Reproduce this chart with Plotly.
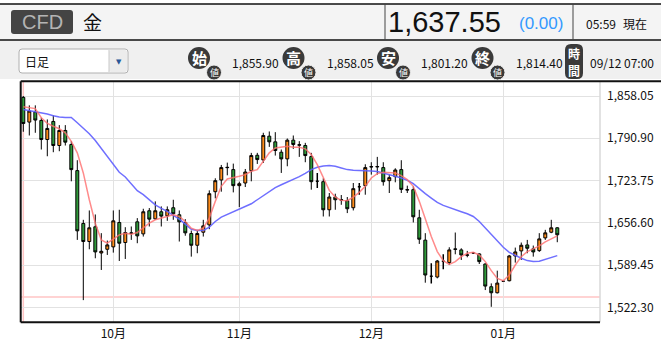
import pandas as pd
import plotly.graph_objects as go

W, H = 661, 343

# ---------------- data ----------------
dates = [d.strftime("%Y-%m-%d") for d in pd.bdate_range("2011-09-12", periods=90)]

opens = [1855.90, 1816.6, 1832.5, 1819.2, 1788.9, 1817.6, 1779.4, 1803.3, 1781.0, 1739.5,
         1655.5, 1626.8, 1650.2, 1608.6, 1614.5, 1618.3, 1657.1, 1625.2, 1639.5, 1658.1,
         1639.0, 1675.7, 1662.9, 1674.1, 1667.7, 1680.5, 1669.3, 1657.1, 1639.5, 1620.9,
         1641.6, 1653.3, 1706.0, 1724.6, 1744.8, 1741.1, 1715.6, 1719.8, 1739.5, 1763.9,
         1756.5, 1794.2, 1785.2, 1768.7, 1758.1, 1787.9, 1779.9, 1779.4, 1761.8, 1722.5,
         1721.9, 1677.3, 1697.5, 1692.7, 1691.6, 1680.5, 1714.0, 1715.6, 1745.9, 1745.4,
         1744.3, 1723.5, 1729.9, 1741.1, 1708.6, 1709.2, 1664.5, 1629.0, 1571.5, 1570.4,
         1595.4, 1593.3, 1615.1, 1613.5, 1605.0, 1608.7, 1607.1, 1591.1, 1555.0, 1545.4,
         1563.5, 1564.5, 1603.9, 1611.9, 1621.4, 1615.1, 1612.4, 1632.6, 1641.6, 1648.6]

highs = [1858.05, 1843.2, 1843.2, 1823.5, 1820.8, 1827.2, 1811.8, 1811.8, 1786.3, 1756.0,
         1661.3, 1676.2, 1669.8, 1640.1, 1628.4, 1676.2, 1677.3, 1649.6, 1650.7, 1664.0,
         1678.9, 1680.0, 1690.6, 1682.6, 1682.6, 1693.2, 1676.2, 1662.4, 1644.3, 1645.4,
         1661.3, 1708.1, 1727.3, 1748.5, 1752.2, 1750.6, 1721.9, 1742.1, 1767.7, 1767.7,
         1799.6, 1801.7, 1800.6, 1773.0, 1790.5, 1795.3, 1786.3, 1783.6, 1767.7, 1735.8,
         1727.3, 1703.9, 1702.8, 1700.7, 1697.5, 1719.8, 1719.8, 1749.6, 1752.8, 1761.3,
         1752.8, 1733.1, 1743.2, 1756.0, 1715.6, 1714.5, 1677.3, 1640.1, 1592.2, 1597.5,
         1606.5, 1617.7, 1641.1, 1616.1, 1611.9, 1610.3, 1608.2, 1592.2, 1560.3, 1580.5,
         1564.5, 1605.5, 1617.2, 1625.2, 1629.4, 1620.4, 1640.1, 1645.4, 1661.3, 1649.6]

lows = [1801.20, 1795.3, 1799.6, 1773.0, 1762.3, 1768.7, 1770.3, 1779.4, 1722.5, 1629.4,
        1533.7, 1614.5, 1600.2, 1581.6, 1605.5, 1609.2, 1595.9, 1599.1, 1629.4, 1624.1,
        1634.7, 1650.7, 1661.3, 1650.7, 1659.7, 1661.3, 1626.8, 1636.0, 1602.8, 1608.2,
        1634.7, 1646.4, 1695.4, 1706.0, 1732.0, 1704.9, 1681.5, 1713.4, 1722.5, 1750.1,
        1751.7, 1777.2, 1763.4, 1735.8, 1746.4, 1774.0, 1761.3, 1752.8, 1709.2, 1711.8,
        1666.6, 1666.6, 1677.3, 1685.2, 1672.0, 1676.2, 1701.2, 1701.2, 1733.1, 1733.1,
        1715.6, 1703.9, 1720.9, 1703.9, 1703.9, 1657.1, 1623.0, 1561.4, 1560.3, 1568.3,
        1582.6, 1589.5, 1606.5, 1597.5, 1601.8, 1607.1, 1591.1, 1549.7, 1523.1, 1544.3,
        1562.5, 1563.5, 1593.3, 1597.5, 1608.2, 1602.8, 1610.3, 1629.4, 1640.1, 1625.7]

closes = [1814.40, 1834.1, 1819.8, 1788.9, 1806.5, 1779.4, 1803.3, 1784.7, 1741.1, 1643.8,
          1626.8, 1648.6, 1610.3, 1611.3, 1621.4, 1659.7, 1624.1, 1641.1, 1640.5, 1635.8,
          1674.1, 1662.4, 1675.7, 1667.2, 1677.3, 1670.9, 1658.1, 1640.6, 1620.9, 1639.5,
          1651.7, 1702.8, 1723.5, 1744.3, 1744.3, 1715.6, 1718.7, 1737.3, 1763.4, 1757.0,
          1795.3, 1785.2, 1771.4, 1758.1, 1787.9, 1781.0, 1780.5, 1763.4, 1721.9, 1722.5,
          1677.3, 1697.5, 1693.2, 1693.2, 1678.9, 1710.8, 1714.0, 1744.3, 1745.4, 1745.9,
          1721.9, 1728.3, 1740.5, 1709.7, 1709.2, 1666.1, 1630.5, 1573.6, 1571.5, 1595.9,
          1595.4, 1613.5, 1614.5, 1605.5, 1605.5, 1608.7, 1594.9, 1556.0, 1545.4, 1560.8,
          1563.5, 1603.9, 1610.3, 1620.9, 1616.1, 1610.3, 1631.0, 1640.6, 1648.6, 1637.55]

ma_short = [1841, 1839, 1838, 1823.5, 1814.5, 1810, 1806, 1799.6, 1786, 1767.7,
            1735.8, 1693.2, 1656, 1629.4, 1624.1, 1630.5, 1637.4, 1640, 1638.5, 1641,
            1648, 1656, 1661.3, 1664, 1667.7, 1669.3, 1666.6, 1658.7, 1648, 1644.3,
            1648, 1664, 1690.6, 1714.5, 1726.2, 1727.8, 1730.4, 1733.1, 1738.4, 1741.1,
            1754.4, 1767.7, 1775.6, 1777.2, 1778.3, 1776.7, 1776.7, 1774, 1765, 1749,
            1727.8, 1708, 1697.5, 1692.2, 1691.6, 1697.5, 1705, 1714.5, 1727.8, 1734.7,
            1736.8, 1736.8, 1735.8, 1731.5, 1725.1, 1714.5, 1690.6, 1663, 1634.7, 1610.8,
            1596.4, 1590.6, 1594.9, 1602.8, 1608.2, 1609.7, 1605.5, 1594.9, 1580.5, 1568.3,
            1564.5, 1573.6, 1589.5, 1602.8, 1610.8, 1615.1, 1619.8, 1626.2, 1631, 1635.8]

ma_long = [1836.5, 1835, 1833, 1831.5, 1829.3, 1826.7, 1824.6, 1824, 1824, 1815.5,
           1806.5, 1798, 1787.3, 1774.6, 1761.3, 1749, 1736.8, 1729.4, 1718.2, 1707.6,
           1701.2, 1693.2, 1685.2, 1679.4, 1674.6, 1668.2, 1662.4, 1654.4, 1646.4, 1644.3,
           1644.3, 1649.6, 1658.7, 1665.6, 1669.8, 1673.6, 1677.8, 1682.1, 1686.8, 1693.2,
           1699.6, 1707, 1712.4, 1717.1, 1721.5, 1724.6, 1729.9, 1735.2, 1741.1, 1744.8,
           1746.9, 1747.5, 1746.4, 1743.7, 1741.1, 1740, 1740, 1740, 1739, 1737.9,
           1735.8, 1732.6, 1730.4, 1727.8, 1724.1, 1718.7, 1710.2, 1702.8, 1695.9, 1689,
           1684.2, 1680.5, 1677.3, 1674.1, 1670.9, 1666.6, 1658.7, 1648, 1637.4, 1626.8,
           1617.7, 1609.7, 1604.4, 1600.2, 1596.5, 1594.9, 1595.4, 1598.6, 1602.3, 1604.4]

y_ticks = [1522.30, 1589.45, 1656.60, 1723.75, 1790.90, 1858.05]
month_labels = {"10": "10月", "11": "11月", "12": "12月", "01": "01月"}
crosshair_price = 1538.5

header_info = [("始", "1,855.90"), ("高", "1,858.05"), ("安", "1,801.20"), ("終", "1,814.40")]
last_price = "1,637.55"
change_text = "(0.00)"

# ---------------- helpers ----------------
def px(x):
    return x / W

def py(y):
    return 1 - y / H

NUM = "Noto Sans CJK JP, sans-serif"
CJK = "Noto Sans CJK JP, sans-serif"
GREEN = "#2f9a3a"
ORANGE = "#ff8c1a"

PL, PR, PT, PB = 20.7, 600.0, 81.3, 322.3

fig = go.Figure()

# moving averages
fig.add_trace(go.Scatter(x=dates, y=ma_long, mode="lines",
                         line=dict(color="rgba(95,95,255,0.9)", width=1.5), hoverinfo="skip"))
fig.add_trace(go.Scatter(x=dates, y=ma_short, mode="lines",
                         line=dict(color="rgba(255,110,110,0.8)", width=1.5), hoverinfo="skip"))

# candles (dojis drawn black)
is_doji = [o == c for o, c in zip(opens, closes)]
def pick(vals, keep):
    return [v if k else None for v, k in zip(vals, keep)]
not_doji = [not d for d in is_doji]

fig.add_trace(go.Candlestick(
    x=dates, open=pick(opens, not_doji), high=pick(highs, not_doji),
    low=pick(lows, not_doji), close=pick(closes, not_doji),
    increasing=dict(fillcolor=ORANGE, line=dict(color="black", width=1)),
    decreasing=dict(fillcolor=GREEN, line=dict(color="black", width=1)),
    whiskerwidth=0, hoverinfo="skip"))
fig.add_trace(go.Candlestick(
    x=dates, open=pick(opens, is_doji), high=pick(highs, is_doji),
    low=pick(lows, is_doji), close=pick(closes, is_doji),
    increasing=dict(fillcolor="black", line=dict(color="black", width=1.5)),
    decreasing=dict(fillcolor="black", line=dict(color="black", width=1.5)),
    whiskerwidth=0, hoverinfo="skip"))

# month ticks at first trading day of each month
tickvals, ticktext = [], []
prev = None
for d in dates:
    m = d[5:7]
    if m != prev:
        if prev is not None:
            tickvals.append(d)
            ticktext.append(month_labels[m])
        prev = m

shapes = []
annotations = []

# header backgrounds
shapes.append(dict(type="rect", xref="paper", yref="paper", x0=0, x1=1, y0=py(40), y1=py(4),
                   fillcolor="#f4f4f4", line=dict(width=0), layer="below"))
shapes.append(dict(type="rect", xref="paper", yref="paper", x0=0, x1=1, y0=py(79), y1=py(40),
                   fillcolor="#f0f0f0", line=dict(width=0), layer="below"))
for yy in (4, 40):
    shapes.append(dict(type="line", xref="paper", yref="paper", x0=0, x1=1, y0=py(yy), y1=py(yy),
                       line=dict(color="#111", width=1.5)))
for xx in (385, 573):
    shapes.append(dict(type="line", xref="paper", yref="paper", x0=px(xx), x1=px(xx),
                       y0=py(40), y1=py(4), line=dict(color="#444", width=1)))

def rrect(x0, y0, x1, y1, r):
    return (f"M {px(x0+r)},{py(y0)} L {px(x1-r)},{py(y0)} Q {px(x1)},{py(y0)} {px(x1)},{py(y0+r)} "
            f"L {px(x1)},{py(y1-r)} Q {px(x1)},{py(y1)} {px(x1-r)},{py(y1)} "
            f"L {px(x0+r)},{py(y1)} Q {px(x0)},{py(y1)} {px(x0)},{py(y1-r)} "
            f"L {px(x0)},{py(y0+r)} Q {px(x0)},{py(y0)} {px(x0+r)},{py(y0)} Z")

# CFD badge
shapes.append(dict(type="path", xref="paper", yref="paper", path=rrect(11, 10, 73, 34, 3),
                   fillcolor="#444444", line=dict(width=0)))
annotations.append(dict(x=px(42), y=py(22), text="CFD", xanchor="center", yanchor="middle",
                        font=dict(family="Liberation Sans, Arial", size=20, color="#b4b4b4")))
annotations.append(dict(x=px(81), y=py(22), text="金", xanchor="left", yanchor="middle",
                        font=dict(family=CJK, size=19, color="#111")))

# price box
annotations.append(dict(x=px(386), y=py(22), text=last_price, xanchor="left", yanchor="middle",
                        font=dict(family="Liberation Sans, Arial", size=29, color="#111")))
annotations.append(dict(x=px(517), y=py(23), text=change_text, xanchor="left", yanchor="middle",
                        font=dict(family="Liberation Sans, Arial", size=17, color="#3399ff")))
annotations.append(dict(x=px(584), y=py(23), text="05:59", xanchor="left", yanchor="middle",
                        font=dict(family=NUM, size=12, color="#111")))
annotations.append(dict(x=px(621), y=py(23), text="現在", xanchor="left", yanchor="middle",
                        font=dict(family=CJK, size=12, color="#111")))

# select box
shapes.append(dict(type="path", xref="paper", yref="paper", path=rrect(19, 49, 128, 73, 3),
                   fillcolor="white", line=dict(color="#b0b0b0", width=1)))
shapes.append(dict(type="path", xref="paper", yref="paper", path=rrect(109, 50, 127, 72, 2),
                   fillcolor="#ececec", line=dict(width=0)))
shapes.append(dict(type="line", xref="paper", yref="paper", x0=px(109), x1=px(109),
                   y0=py(50), y1=py(72), line=dict(color="#c8c8c8", width=1)))
annotations.append(dict(x=px(23), y=py(61.5), text="日足", xanchor="left", yanchor="middle",
                        font=dict(family=CJK, size=12, color="#111")))
annotations.append(dict(x=px(118.5), y=py(61.5), text="▼", xanchor="center", yanchor="middle",
                        font=dict(family="DejaVu Sans", size=7, color="#2b5797")))

# OHLC icons
for k, (ch, val) in enumerate(header_info):
    cx = 199 + 94.5 * k
    shapes.append(dict(type="circle", xref="paper", yref="paper",
                       x0=px(cx - 11), x1=px(cx + 11), y0=py(69), y1=py(47),
                       fillcolor="#3a3a3a", line=dict(width=0)))
    shapes.append(dict(type="circle", xref="paper", yref="paper",
                       x0=px(cx + 7.5), x1=px(cx + 22.5), y0=py(80), y1=py(65),
                       fillcolor="#3a3a3a", line=dict(color="#f0f0f0", width=1)))
    annotations.append(dict(x=px(cx), y=py(57.5), text="<b>%s</b>" % ch, xanchor="center",
                            yanchor="middle", font=dict(family=CJK, size=15, color="white")))
    annotations.append(dict(x=px(cx + 15), y=py(72.5), text="値", xanchor="center",
                            yanchor="middle", font=dict(family=CJK, size=9, color="white")))
    annotations.append(dict(x=px(cx + 31), y=py(62), text=val, xanchor="left", yanchor="middle",
                            font=dict(family=NUM, size=12, color="#111")))

# time icon
shapes.append(dict(type="path", xref="paper", yref="paper", path=rrect(565, 44, 583, 79, 6),
                   fillcolor="#3a3a3a", line=dict(width=0)))
annotations.append(dict(x=px(574), y=py(53.5), text="<b>時</b>", xanchor="center", yanchor="middle",
                        font=dict(family=CJK, size=12, color="white")))
annotations.append(dict(x=px(574), y=py(70), text="<b>間</b>", xanchor="center", yanchor="middle",
                        font=dict(family=CJK, size=12, color="white")))
annotations.append(dict(x=px(588), y=py(62), text="09/12 07:00", xanchor="left", yanchor="middle",
                        font=dict(family=NUM, size=12, color="#111")))

for a in annotations:
    a.update(xref="paper", yref="paper", showarrow=False)

# crosshair
shapes.append(dict(type="line", xref="x", yref="paper", x0=dates[0], x1=dates[0],
                   y0=py(PB), y1=py(PT), line=dict(color="#ffc4c4", width=1.5), layer="below"))
shapes.append(dict(type="line", xref="paper", yref="y", x0=px(PL), x1=px(PR),
                   y0=crosshair_price, y1=crosshair_price,
                   line=dict(color="#ffc4c4", width=1.5), layer="below"))

# plot borders
shapes.append(dict(type="line", xref="paper", yref="paper", x0=px(PR), x1=px(PR),
                   y0=py(PB), y1=py(PT), line=dict(color="#d8d8d8", width=1.5)))
shapes.append(dict(type="line", xref="paper", yref="paper", x0=px(PL), x1=1,
                   y0=py(PT), y1=py(PT), line=dict(color="#111", width=2)))
shapes.append(dict(type="line", xref="paper", yref="paper", x0=px(PL), x1=px(PR),
                   y0=py(PB), y1=py(PB), line=dict(color="#111", width=2)))
shapes.append(dict(type="line", xref="paper", yref="paper", x0=px(PL), x1=px(PL),
                   y0=py(PB), y1=py(PT), line=dict(color="#111", width=2)))

y_lo = y_ticks[0] - (PB - 307.3) * (y_ticks[-1] - y_ticks[0]) / (307.3 - 96.0)
y_hi = y_ticks[-1] + (96.0 - PT) * (y_ticks[-1] - y_ticks[0]) / (307.3 - 96.0)

fig.update_layout(
    width=W, height=H,
    margin=dict(l=0, r=0, t=0, b=0),
    paper_bgcolor="white", plot_bgcolor="white",
    showlegend=False, hovermode=False,
    shapes=shapes, annotations=annotations,
    xaxis=dict(type="category", domain=[px(PL), px(PR)], range=[-0.433, 96.12],
               tickvals=tickvals, ticktext=ticktext, showgrid=True, gridcolor="#e2e2e2",
               gridwidth=1, ticks="", zeroline=False, showline=False, fixedrange=True,
               rangeslider=dict(visible=False), ticklabelstandoff=3,
               tickfont=dict(family=NUM, size=12, color="#111")),
    yaxis=dict(domain=[py(PB), py(PT)], range=[y_lo, y_hi], side="right",
               tickvals=y_ticks, ticktext=[f"{v:,.2f}" for v in y_ticks],
               showgrid=True, gridcolor="#e2e2e2", gridwidth=1, ticks="", zeroline=False,
               showline=False, fixedrange=True, ticklabelstandoff=6,
               tickfont=dict(family=NUM, size=12, color="#111")),
)

fig.write_html("out.html", config={"displayModeBar": False})
